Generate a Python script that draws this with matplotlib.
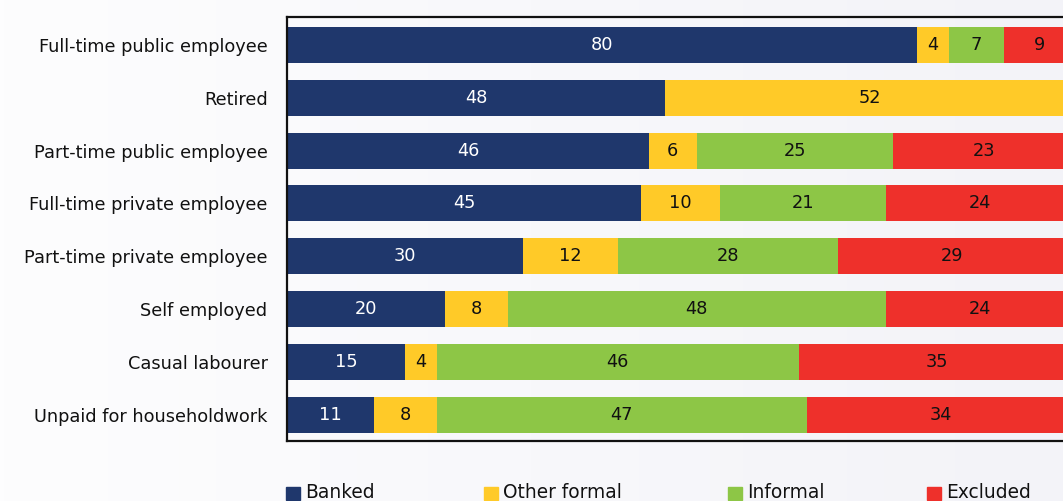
import numpy as np
import matplotlib
matplotlib.use("Agg")
import matplotlib.pyplot as plt
from matplotlib.patches import Rectangle
from matplotlib.colors import LinearSegmentedColormap

# Share of each employment group by financial access (%)
groups = [
    "Full-time public employee",
    "Retired",
    "Part-time public employee",
    "Full-time private employee",
    "Part-time private employee",
    "Self employed",
    "Casual labourer",
    "Unpaid for householdwork",
]
series_names = ["Banked", "Other formal", "Informal", "Excluded"]
banked = [80, 48, 46, 45, 30, 20, 15, 11]
other_formal = [4, 52, 6, 10, 12, 8, 4, 8]
informal = [7, 0, 25, 21, 28, 48, 46, 47]
excluded = [9, 0, 23, 24, 29, 24, 35, 34]

colors = ["#1f376c", "#ffca28", "#8dc646", "#ee302b"]
label_colors = ["white", "#111111", "#111111", "#111111"]

plt.rcParams["font.family"] = ["DejaVu Sans"]
FS = 12.8

W, H = 1063, 501
fig = plt.figure(figsize=(W / 100, H / 100), dpi=100)

# soft background wash, lighter on the left
bg = fig.add_axes([0, 0, 1, 1], zorder=-10)
bg.set_axis_off()
cmap = LinearSegmentedColormap.from_list("wash", ["#fdfdfe", "#f3f3f8"])
bg.imshow(np.linspace(0, 1, 256)[None, :], aspect="auto", cmap=cmap,
          extent=[0, 1, 0, 1])

# axes: x from 0 to 100 spans px 287..1074 (runs past the right edge)
x0, x1 = 287, 1074.5
top, bottom = 17, 441
ax = fig.add_axes([x0 / W, 1 - bottom / H, (x1 - x0) / W, (bottom - top) / H])
ax.set_facecolor("none")

data = [banked, other_formal, informal, excluded]
y = np.arange(len(groups))
left = np.zeros(len(groups))
for vals, name, col, tcol in zip(data, series_names, colors, label_colors):
    vals = np.array(vals, dtype=float)
    bars = ax.barh(y, vals, left=left, height=0.68, color=col, label=name,
                   edgecolor="none")
    labels = [f"{v:g}" if v > 0 else "" for v in vals]
    ax.bar_label(bars, labels=labels, label_type="center", color=tcol,
                 fontsize=FS)
    left += vals

ax.set_xlim(0, 100)
ax.set_ylim(len(groups) - 0.5, -0.53)
ax.set_yticks(y)
ax.set_yticklabels(groups, fontsize=FS, color="#111111")
ax.tick_params(axis="y", length=0, pad=14)
ax.set_xticks([])
for side in ["left", "top", "bottom"]:
    ax.spines[side].set_linewidth(1.6)
    ax.spines[side].set_color("#111111")
ax.spines["right"].set_visible(False)

# legend row along the bottom edge
legend_x = [286, 484, 728, 927]
for name, col, lx in zip(series_names, colors, legend_x):
    fig.patches.append(Rectangle((lx / W, 1 - 499.5 / H), 14 / W, 13 / H,
                                 transform=fig.transFigure, color=col))
    fig.text((lx + 19) / W, 1 - 498.5 / H, name, fontsize=13.4,
             color="#111111", va="baseline", ha="left")

fig.savefig("out.png", dpi=100)
